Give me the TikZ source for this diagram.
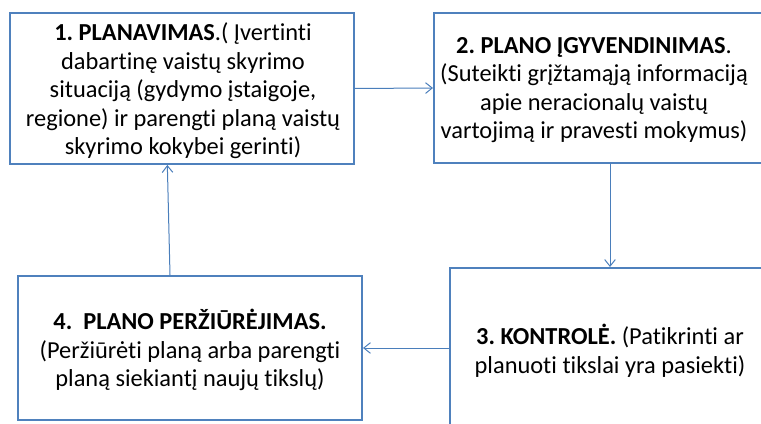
\documentclass[tikz,border=0pt]{standalone}
\usepackage{fontspec}
\setmainfont{Carlito}[Ligatures=NoCommon]
\usetikzlibrary{arrows.meta,positioning}
\definecolor{boxblue}{HTML}{4F81BD}
\definecolor{lineblue}{HTML}{4A7EBB}
\frenchspacing

\begin{document}
\begin{tikzpicture}[x=0.75pt,y=-0.75pt,
    font=\fontsize{18.3}{21.4}\selectfont,
    >={Straight Barb[length=5pt,width=8pt]},
    stage/.style={rectangle,draw=boxblue,line width=1.5pt,fill=white,inner sep=0pt},
    txt/.style={align=center,inner sep=0pt},
    flow/.style={->,lineblue,line width=0.75pt}]

  \useasboundingbox (0,0) rectangle (761,424);
  \clip (0,0) rectangle (761,424);

  % the four stages of the cycle
  \node[stage,minimum width=258pt,minimum height=113.25pt] (plan) at (182,88.5) {};
  \node[stage,minimum width=264pt,minimum height=112.5pt]  (impl) at (610,88)   {};
  \node[stage,minimum width=240pt,minimum height=120pt]    (ctrl) at (610,348)  {};
  \node[stage,minimum width=258pt,minimum height=108pt]    (rev)  at (190,348)  {};

  \node[txt] (plantxt) at (183,91)
       {\textbf{1. PLANAVIMAS}.( Įvertinti\\ dabartinę vaistų skyrimo\\
        situaciją (gydymo įstaigoje,\\ regione) ir parengti planą vaistų\\
        skyrimo kokybei gerinti)};
  \node[txt] (impltxt) at (594,90)
       {\textbf{2. PLANO ĮGYVENDINIMAS}.\\ (Suteikti grįžtamąją informaciją\\
        apie neracionalų vaistų\\ vartojimą ir pravesti mokymus)};
  \node[txt] (ctrltxt) at (610,351)
       {\textbf{3. KONTROLĖ.} (Patikrinti ar\\ planuoti tikslai yra pasiekti)};
  \node[txt] (revtxt) at (190,350)
       {\textbf{4.\ \ PLANO PERŽIŪRĖJIMAS.}\\ (Peržiūrėti planą arba parengti\\
        planą siekiantį naujų tikslų)};

  % connectors
  \draw[flow] (plan.east) -- (impl.west);
  \draw[flow] (impl.south) -- (ctrl.north);
  \draw[flow] (ctrl.west) -- (rev.east);
  \draw[flow] ([xshift=-15pt]rev.north) -- ([xshift=-11pt]plan.south);
\end{tikzpicture}
\end{document}
